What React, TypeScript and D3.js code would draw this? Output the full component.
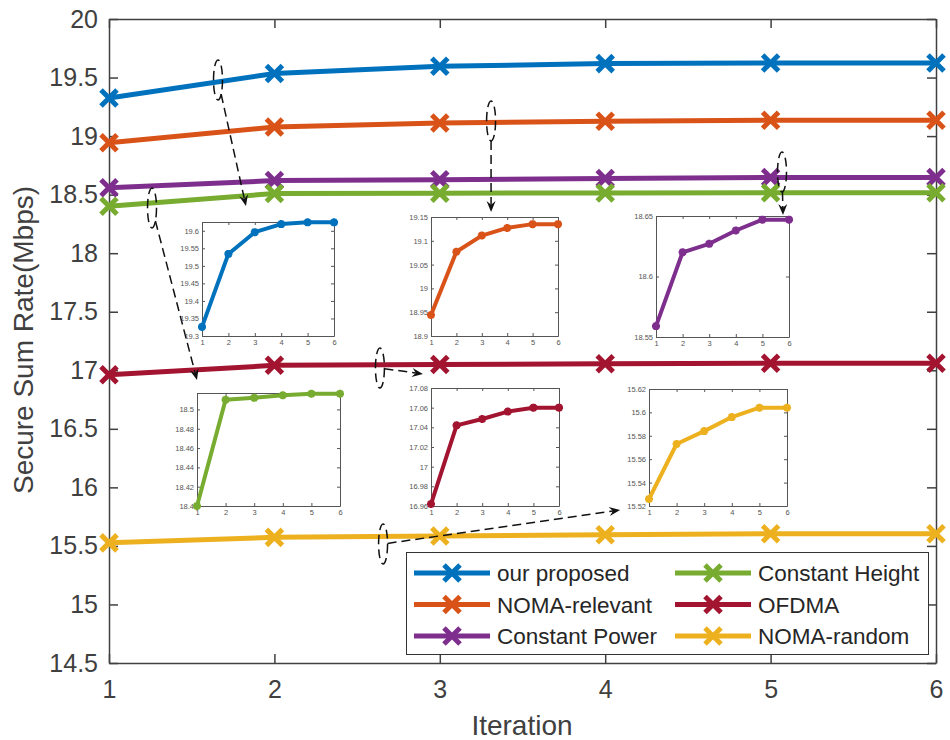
import React, { useEffect, useRef } from 'react';
import * as d3 from 'd3';

// iterations on the x axis
const iterations = [1, 2, 3, 4, 5, 6];

// secure sum rate (Mbps) per scheme
const ourProposed = [19.326, 19.534, 19.596, 19.619, 19.624, 19.624];
const nomaRelevant = [18.944, 19.077, 19.111, 19.127, 19.135, 19.135];
const constantPower = [18.559, 18.62, 18.627, 18.638, 18.647, 18.647];
const constantHeight = [18.4, 18.51, 18.512, 18.5146, 18.5163, 18.5163];
const ofdma = [16.962, 17.042, 17.0485, 17.056, 17.06, 17.06];
const nomaRandom = [15.526, 15.573, 15.584, 15.596, 15.604, 15.604];

const yTicks = [14.5, 15, 15.5, 16, 16.5, 17, 17.5, 18, 18.5, 19, 19.5, 20];

// zoomed inset tick values
const insetTicksProposed = [19.3, 19.35, 19.4, 19.45, 19.5, 19.55, 19.6];
const insetTicksRelevant = [18.9, 18.95, 19, 19.05, 19.1, 19.15];
const insetTicksPower = [18.55, 18.6, 18.65];
const insetTicksHeight = [18.4, 18.42, 18.44, 18.46, 18.48, 18.5];
const insetTicksOfdma = [16.96, 16.98, 17, 17.02, 17.04, 17.06, 17.08];
const insetTicksRandom = [15.52, 15.54, 15.56, 15.58, 15.6, 15.62];

const FONT = "'Liberation Sans', Arial, sans-serif";
const AXIS = '#404040';

// main axes position
const PLOT = { left: 109, right: 936, top: 19, bottom: 663 };

// series + inset/callout layout (inset boxes in px, callouts in data coords)
const series = [
  {
    name: 'our proposed', values: ourProposed, color: '#0072BD',
    ticks: insetTicksProposed, yDomain: [19.3, 19.625],
    box: { x: 202, y: 222, w: 132, h: 114 },
    callout: { cx: 1.659, cy: 19.479, tx: 1.828, ty: 18.403 },
  },
  {
    name: 'NOMA-relevant', values: nomaRelevant, color: '#D95319',
    ticks: insetTicksRelevant, yDomain: [18.9, 19.15],
    box: { x: 431, y: 217, w: 127, h: 119 },
    callout: { cx: 3.31, cy: 19.129, tx: 3.31, ty: 18.352 },
  },
  {
    name: 'Constant Power', values: constantPower, color: '#7E2F8E',
    ticks: insetTicksPower, yDomain: [18.55, 18.65],
    box: { x: 656, y: 216, w: 133, h: 121 },
    callout: { cx: 5.069, cy: 18.693, tx: 5.075, ty: 18.326 },
  },
  {
    name: 'Constant Height', values: constantHeight, color: '#77AC30',
    ticks: insetTicksHeight, yDomain: [18.4, 18.517],
    box: { x: 197, y: 393, w: 143, h: 113 },
    callout: { cx: 1.26, cy: 18.386, tx: 1.532, ty: 16.917 },
  },
  {
    name: 'OFDMA', values: ofdma, color: '#A2142F',
    ticks: insetTicksOfdma, yDomain: [16.96, 17.08],
    box: { x: 431, y: 388, w: 128, h: 118 },
    callout: { cx: 2.638, cy: 17.019, tx: 2.898, ty: 16.968 },
  },
  {
    name: 'NOMA-random', values: nomaRandom, color: '#EDB120',
    ticks: insetTicksRandom, yDomain: [15.52, 15.62],
    box: { x: 649, y: 389, w: 138, h: 117 },
    callout: { cx: 2.657, cy: 15.516, tx: 4.09, ty: 15.807 },
  },
];

function xMarker(s: number) {
  return `M${-s},${-s}L${s},${s}M${-s},${s}L${s},${-s}`;
}
function starMarker(s: number) {
  const d = s * 0.72;
  return `M${-s},0L${s},0M0,${-s}L0,${s}M${-d},${-d}L${d},${d}M${-d},${d}L${d},${-d}`;
}

function styleAxis(g: any, fontSize: number, color: string, width: number) {
  g.attr('font-family', FONT).attr('font-size', fontSize).attr('color', color);
  g.selectAll('text').attr('fill', color);
  g.selectAll('line').attr('stroke', color).attr('stroke-width', width);
  g.select('.domain').attr('stroke', color).attr('stroke-width', width);
}

export default function App() {
  const svgRef = useRef<SVGSVGElement>(null);

  useEffect(() => {
    document.body.style.margin = '0';
    const svg = d3.select(svgRef.current);
    svg.selectAll('*').remove();

    const x = d3.scaleLinear().domain([1, 6]).range([PLOT.left, PLOT.right]);
    const y = d3.scaleLinear().domain([14.5, 20]).range([PLOT.bottom, PLOT.top]);
    const fmt = (d: any) => String(d);

    // main axes (box on, inward ticks)
    const gl = svg.append('g')
      .attr('transform', `translate(${PLOT.left},0)`)
      .call(d3.axisLeft(y).tickValues(yTicks).tickSize(-9).tickSizeOuter(0).tickPadding(11).tickFormat(fmt));
    styleAxis(gl, 25, AXIS, 1.5);
    const gb = svg.append('g')
      .attr('transform', `translate(0,${PLOT.bottom})`)
      .call(d3.axisBottom(x).tickValues(iterations).tickSize(-9).tickSizeOuter(0).tickPadding(17).tickFormat(fmt));
    styleAxis(gb, 25, AXIS, 1.5);
    const gt = svg.append('g')
      .attr('transform', `translate(0,${PLOT.top})`)
      .call(d3.axisTop(x).tickValues(iterations).tickSize(-9).tickSizeOuter(0).tickFormat(() => ''));
    styleAxis(gt, 25, AXIS, 1.5);
    const gr = svg.append('g')
      .attr('transform', `translate(${PLOT.right},0)`)
      .call(d3.axisRight(y).tickValues(yTicks).tickSize(-9).tickSizeOuter(0).tickFormat(() => ''));
    styleAxis(gr, 25, AXIS, 1.5);

    // axis labels
    svg.append('text')
      .attr('transform', `translate(33,340) rotate(-90)`)
      .attr('text-anchor', 'middle')
      .attr('font-family', FONT).attr('font-size', 28).attr('fill', AXIS)
      .text('Secure Sum Rate(Mbps)');
    svg.append('text')
      .attr('x', 522).attr('y', 735)
      .attr('text-anchor', 'middle')
      .attr('font-family', FONT).attr('font-size', 28).attr('fill', AXIS)
      .text('Iteration');

    // main lines
    const mainLine = d3.line<number>()
      .x((_, i) => x(iterations[i]))
      .y((d) => y(d));
    series.forEach((s) => {
      svg.append('path')
        .attr('d', mainLine(s.values))
        .attr('fill', 'none')
        .attr('stroke', s.color)
        .attr('stroke-width', 5);
      svg.append('g')
        .selectAll('path')
        .data(s.values)
        .join('path')
        .attr('transform', (d, i) => `translate(${x(iterations[i])},${y(d)})`)
        .attr('d', xMarker(8))
        .attr('stroke', s.color)
        .attr('stroke-width', 5)
        .attr('fill', 'none');
    });

    // callouts: dashed ellipse + dashed arrow
    const rx = 4.5;
    const ry = 20;
    series.forEach((s) => {
      const c = s.callout;
      const cx = x(c.cx);
      const cy = y(c.cy);
      const tx = x(c.tx);
      const ty = y(c.ty);
      svg.append('ellipse')
        .attr('cx', cx).attr('cy', cy).attr('rx', rx).attr('ry', ry)
        .attr('fill', 'none').attr('stroke', '#111')
        .attr('stroke-width', 1.5).attr('stroke-dasharray', '9,5');
      const dx = tx - cx;
      const dy = ty - cy;
      const t = 1 / Math.sqrt((dx / rx) ** 2 + (dy / ry) ** 2);
      const sx = cx + dx * t;
      const sy = cy + dy * t;
      const ang = Math.atan2(ty - sy, tx - sx);
      const len = 11;
      const wid = 4.5;
      const bx = tx - len * Math.cos(ang);
      const by = ty - len * Math.sin(ang);
      const nx = tx - len * 0.65 * Math.cos(ang);
      const ny = ty - len * 0.65 * Math.sin(ang);
      const px = -Math.sin(ang) * wid;
      const py = Math.cos(ang) * wid;
      svg.append('line')
        .attr('x1', sx).attr('y1', sy).attr('x2', nx).attr('y2', ny)
        .attr('stroke', '#111').attr('stroke-width', 1.5)
        .attr('stroke-dasharray', '9,5');
      svg.append('path')
        .attr('d', `M${tx},${ty}L${bx + px},${by + py}L${nx},${ny}L${bx - px},${by - py}Z`)
        .attr('fill', '#111');
    });

    // insets
    series.forEach((s) => {
      const b = s.box;
      const ix = d3.scaleLinear().domain([1, 6]).range([b.x, b.x + b.w]);
      const iy = d3.scaleLinear().domain(s.yDomain).range([b.y + b.h, b.y]);
      const g = svg.append('g');
      g.append('rect')
        .attr('x', b.x).attr('y', b.y).attr('width', b.w).attr('height', b.h)
        .attr('fill', 'white');
      const al = g.append('g').attr('transform', `translate(${b.x},0)`)
        .call(d3.axisLeft(iy).tickValues(s.ticks).tickSize(-3).tickSizeOuter(0).tickPadding(3).tickFormat(fmt));
      styleAxis(al, 7.5, '#555', 1);
      const ab = g.append('g').attr('transform', `translate(0,${b.y + b.h})`)
        .call(d3.axisBottom(ix).tickValues(iterations).tickSize(-3).tickSizeOuter(0).tickPadding(4).tickFormat(fmt));
      styleAxis(ab, 7.5, '#555', 1);
      const at = g.append('g').attr('transform', `translate(0,${b.y})`)
        .call(d3.axisTop(ix).tickValues(iterations).tickSize(-3).tickSizeOuter(0).tickFormat(() => ''));
      styleAxis(at, 7.5, '#555', 1);
      const ar = g.append('g').attr('transform', `translate(${b.x + b.w},0)`)
        .call(d3.axisRight(iy).tickValues(s.ticks).tickSize(-3).tickSizeOuter(0).tickFormat(() => ''));
      styleAxis(ar, 7.5, '#555', 1);
      const insetLine = d3.line<number>()
        .x((_, i) => ix(iterations[i]))
        .y((d) => iy(d));
      g.append('path')
        .attr('d', insetLine(s.values))
        .attr('fill', 'none')
        .attr('stroke', s.color)
        .attr('stroke-width', 4)
        .attr('stroke-linejoin', 'round');
      g.append('g')
        .selectAll('path')
        .data(s.values)
        .join('path')
        .attr('transform', (d, i) => `translate(${ix(iterations[i])},${iy(d)})`)
        .attr('d', starMarker(4))
        .attr('stroke', s.color)
        .attr('stroke-width', 2.6)
        .attr('fill', 'none');
    });

    // legend
    const lg = svg.append('g');
    lg.append('rect')
      .attr('x', 406.5).attr('y', 552.5).attr('width', 522).attr('height', 102)
      .attr('fill', 'white').attr('stroke', '#333').attr('stroke-width', 1);
    const colX = [414, 675];
    const rowY = [573, 604.5, 636];
    series.forEach((s, i) => {
      const lx = colX[Math.floor(i / 3)];
      const ly = rowY[i % 3];
      lg.append('line')
        .attr('x1', lx).attr('x2', lx + 76).attr('y1', ly).attr('y2', ly)
        .attr('stroke', s.color).attr('stroke-width', 5);
      lg.append('path')
        .attr('transform', `translate(${lx + 38},${ly})`)
        .attr('d', xMarker(8))
        .attr('stroke', s.color).attr('stroke-width', 5).attr('fill', 'none');
      lg.append('text')
        .attr('x', lx + 83).attr('y', ly).attr('dy', '0.36em')
        .attr('font-family', FONT).attr('font-size', 22.5).attr('fill', '#262626')
        .text(s.name);
    });
  }, []);

  return (
    <svg ref={svgRef} width={950} height={740} style={{ display: 'block', background: 'white' }} />
  );
}
